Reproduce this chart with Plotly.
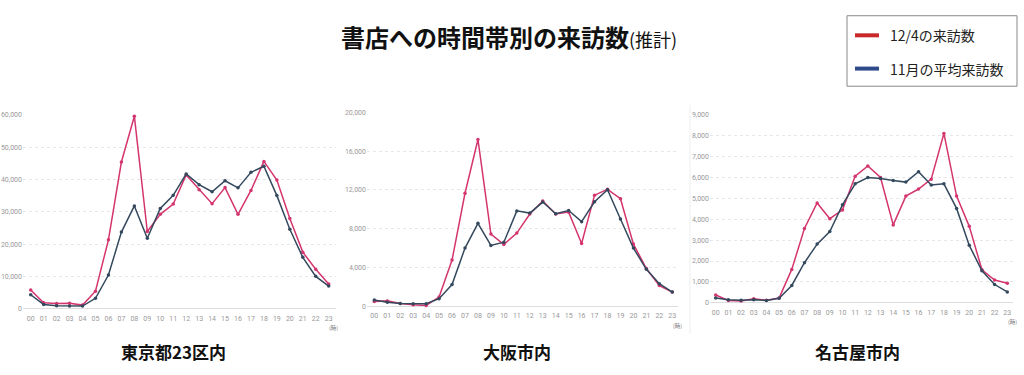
import plotly.graph_objects as go

W, H = 1024, 375

hours = list(range(24))
hour_labels = [f"{h:02d}" for h in hours]

tokyo_dec4 = [5800, 1800, 1600, 1700, 1100, 5400, 21300, 45400, 59600, 23900, 29200, 32400,
              41400, 36800, 32500, 37500, 29200, 36600, 45600, 39800, 27900, 17500, 12200, 7600]
tokyo_nov = [4300, 1300, 900, 800, 800, 3200, 10400, 23700, 31800, 21800, 31000, 35100,
             41700, 38400, 36200, 39600, 37400, 42200, 44100, 35000, 24600, 15900, 10000, 7000]

osaka_dec4 = [470, 540, 270, 130, 70, 940, 4750, 11650, 17200, 7440, 6360, 7540,
              9500, 10840, 9500, 9700, 6460, 11450, 12050, 11080, 6400, 3870, 2120, 1450]
osaka_nov = [640, 400, 270, 240, 240, 770, 2220, 5990, 8550, 6260, 6600, 9830,
             9600, 10740, 9530, 9870, 8720, 10770, 12020, 8990, 5990, 3800, 2320, 1450]

nagoya_dec4 = [375, 110, 90, 190, 125, 230, 1600, 3560, 4780, 4030, 4450, 6060,
               6550, 6000, 3730, 5110, 5450, 5920, 8110, 5110, 3660, 1580, 1090, 940]
nagoya_nov = [230, 140, 125, 140, 110, 220, 830, 1920, 2810, 3410, 4690, 5700,
              6000, 5950, 5860, 5780, 6280, 5640, 5700, 4520, 2750, 1530, 875, 520]

panel_titles = ["東京都23区内", "大阪市内", "名古屋市内"]
y_max = [60000, 20000, 9000]
y_step = [10000, 4000, 1000]

title_main = "書店への時間帯別の来訪数"
title_sub = "(推計)"
legend_labels = ["12/4の来訪数", "11月の平均来訪数"]

RED = "#d4356e"
BLUE = "#34495e"
LEG_RED = "#c8282a"
LEG_BLUE = "#2f4a8a"

# panel pixel geometry: (x of hour 00, x of hour 23, plot left, plot right, y of 0, y of max)
geo = [
    (30.7, 328.7, 23, 336, 311.3, 113.3),
    (374.3, 672.3, 367, 678, 308.7, 110.7),
    (715.7, 1007.3, 710, 1013, 305.3, 113.3),
]
series = [(tokyo_dec4, tokyo_nov), (osaka_dec4, osaka_nov), (nagoya_dec4, nagoya_nov)]

fig = go.Figure()
layout = dict(
    width=W, height=H, margin=dict(l=0, r=0, t=0, b=0),
    paper_bgcolor="white", plot_bgcolor="white", showlegend=False,
    font=dict(family="Noto Sans CJK JP, Roboto, sans-serif"),
)
annotations = []
shapes = []

for i, ((x0, x23, pl, pr, y0, ymx), (red, blue)) in enumerate(zip(geo, series)):
    unit = (x23 - x0) / 23
    xr = [-(x0 - pl) / unit, 23 + (pr - x23) / unit]
    ax = "" if i == 0 else str(i + 1)
    xa, ya = "x" + ax, "y" + ax
    for vals, col in ((red, RED), (blue, BLUE)):
        fig.add_trace(go.Scatter(
            x=hours, y=vals, xaxis=xa, yaxis=ya, mode="lines+markers",
            line=dict(color=col, width=1.5), marker=dict(color=col, size=3.5),
            cliponaxis=False, hoverinfo="skip"))
    layout["xaxis" + ax] = dict(
        domain=[pl / W, pr / W], range=xr, tickmode="array", tickvals=hours,
        ticktext=hour_labels, showgrid=False, zeroline=False, showline=False,
        tickfont=dict(size=7, color="#999999", family="Roboto"), ticks="",
        ticklabelstandoff=4, anchor=ya, fixedrange=True)
    layout["yaxis" + ax] = dict(
        domain=[1 - y0 / H, 1 - ymx / H], range=[0, y_max[i]], tick0=0, dtick=y_step[i],
        tickformat=",", showgrid=True, gridcolor="#e6e6e6", griddash="dot", gridwidth=1,
        zeroline=True, zerolinecolor="#dddddd", zerolinewidth=1, showline=False,
        tickfont=dict(size=7, color="#999999", family="Roboto"), ticks="",
        anchor=xa, fixedrange=True)
    annotations.append(dict(
        text="(時)", x=(x23 + 5) / W, y=1 - (y0 + 20) / H, xref="paper", yref="paper",
        showarrow=False, font=dict(size=5.5, color="#777777"), xanchor="center",
        yanchor="middle"))
    annotations.append(dict(
        text=panel_titles[i], x=[173, 517, 857][i] / W, y=1 - 355 / H, xref="paper",
        yref="paper", showarrow=False, xanchor="center", yanchor="middle",
        font=dict(size=17, color="#111111", family="Noto Sans CJK JP", weight="bold")))

annotations.append(dict(
    text=f"<b>{title_main}</b><span style='font-size:18px'>{title_sub}</span>",
    x=339 / W, y=1 - 33 / H, xref="paper", yref="paper", showarrow=False,
    xanchor="left", yanchor="middle",
    font=dict(size=24, color="#111111", family="Noto Sans CJK JP")))

# legend box
shapes.append(dict(type="rect", xref="paper", yref="paper",
                   x0=847 / W, x1=1017 / W, y0=1 - 84 / H, y1=1 - 12 / H,
                   line=dict(color="#888888", width=1), fillcolor="white"))
for yy, col, lab in ((32, LEG_RED, legend_labels[0]), (66, LEG_BLUE, legend_labels[1])):
    shapes.append(dict(type="line", xref="paper", yref="paper",
                       x0=855 / W, x1=879 / W, y0=1 - yy / H, y1=1 - yy / H,
                       line=dict(color=col, width=4)))
    annotations.append(dict(
        text=lab, x=888 / W, y=1 - yy / H, xref="paper", yref="paper", showarrow=False,
        xanchor="left", yanchor="middle",
        font=dict(size=14, color="#222222", family="Noto Sans CJK JP")))

# faint separator line
shapes.append(dict(type="line", xref="paper", yref="paper",
                   x0=690 / W, x1=690 / W, y0=1 - 337 / H, y1=1 - 103 / H,
                   line=dict(color="#eeeeee", width=1)))

layout["annotations"] = annotations
layout["shapes"] = shapes
fig.update_layout(**layout)
fig.write_html("out.html", config={"displayModeBar": False, "staticPlot": True},
               post_script="document.body.style.margin='0';document.body.style.overflow='hidden';")
